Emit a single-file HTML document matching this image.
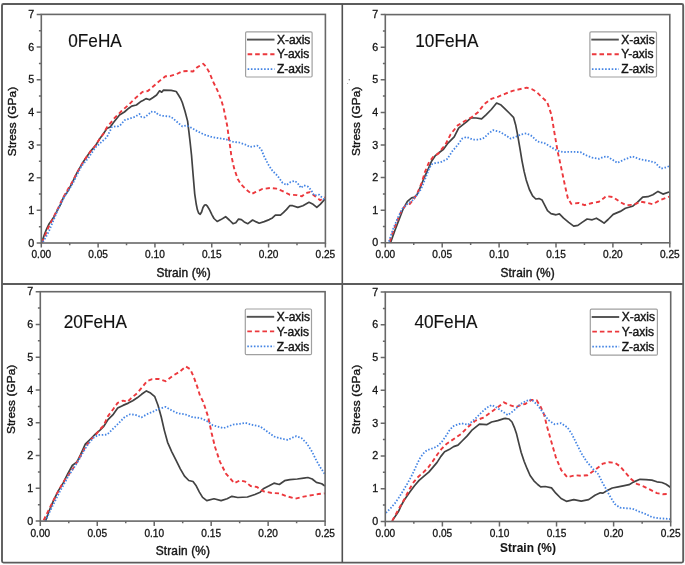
<!DOCTYPE html><html><head><meta charset="utf-8"><style>html,body{margin:0;padding:0;background:#fff;}body{width:685px;height:565px;overflow:hidden;position:relative;}svg{position:absolute;left:0;top:0;filter:blur(0.3px);}text{font-family:"Liberation Sans",sans-serif;fill:#141414;stroke:#141414;stroke-width:0.4px;paint-order:stroke;}.ttl{stroke-width:0.15px;}</style></head><body>
<svg width="685" height="565" viewBox="0 0 685 565">
<g stroke="#5c5c5c" fill="none">
<rect x="2" y="4" width="681.2" height="558.6" rx="1.5" stroke-width="1.9"/>
<line x1="342.3" y1="4" x2="342.3" y2="562.6" stroke-width="1.6" stroke="#505050"/>
<line x1="2" y1="284" x2="683.2" y2="284" stroke-width="1.8" stroke="#5c5c5c"/>
</g>
<polyline points="41.7,242.6 44.6,234.0 46.9,228.3 49.2,223.7 52.1,219.7 54.4,216.2 57.2,210.5 60.7,204.1 63.6,197.2 67.6,191.5 71.7,183.9 76.9,172.9 83.8,160.9 90.7,151.1 95.3,145.9 99.9,138.4 103.4,133.8 106.8,128.6 110.3,126.9 113.3,122.8 119.5,114.9 124.4,112.0 128.8,108.2 131.7,106.1 136.4,105.0 140.4,101.8 143.4,100.3 146.0,98.6 149.6,99.8 153.1,97.5 156.6,95.0 159.6,90.8 161.7,92.2 163.5,90.1 171.2,90.4 176.2,91.5 178.3,94.7 180.4,98.2 182.3,102.5 185.0,111.3 187.6,121.1 188.8,130.8 190.1,142.0 191.5,155.0 193.0,173.5 194.7,193.8 196.2,204.0 197.4,209.8 198.6,213.0 200.2,214.3 201.6,212.0 203.0,207.5 204.6,205.0 206.0,204.8 207.4,206.2 209.6,209.9 212.0,214.8 214.0,218.5 217.2,221.5 220.9,219.6 225.6,216.7 229.3,220.0 233.0,223.7 235.8,222.8 238.6,219.1 241.4,219.6 244.2,221.9 247.9,223.7 252.6,220.0 256.3,221.9 259.2,223.2 264.2,221.6 269.3,219.6 272.4,217.9 275.4,215.1 280.5,215.1 283.6,212.4 286.6,209.4 289.7,205.7 292.7,205.7 297.8,207.4 302.9,205.7 309.0,202.3 313.1,204.3 316.8,207.4 320.2,204.3 324.9,199.2" fill="none" stroke="#424242" stroke-width="1.7" stroke-linejoin="round"/>
<polyline points="41.7,242.6 45.2,235.2 48.0,228.3 51.5,221.4 54.9,214.5 58.4,207.6 61.8,200.1 65.3,193.8 68.7,188.0 72.8,181.1 76.9,172.9 83.8,160.9 90.7,151.1 95.3,145.9 99.9,138.4 103.4,133.8 107.0,127.3 114.2,118.4 121.2,111.3 128.3,105.1 135.4,98.1 142.5,91.9 147.8,91.0 153.1,86.5 160.2,80.4 165.5,76.3 170.5,75.9 176.5,74.2 182.2,71.3 187.9,71.0 192.9,71.5 197.1,67.4 203.3,63.8 205.9,66.5 209.5,72.7 213.0,81.5 217.4,90.4 221.0,99.2 223.6,108.1 225.4,117.0 227.2,125.8 228.9,138.2 230.7,150.6 231.2,154.9 234.0,167.9 237.7,179.1 241.4,184.7 246.0,189.3 251.6,194.0 255.3,192.1 260.0,190.2 262.2,189.0 270.4,188.0 276.5,188.6 282.6,191.1 289.7,194.7 296.8,195.1 301.9,196.2 306.0,193.1 310.0,192.1 315.1,196.2 320.2,200.2 324.9,197.2" fill="none" stroke="#ec383d" stroke-width="1.9" stroke-dasharray="4.2 3.0" stroke-linejoin="round"/>
<polyline points="42.9,242.1 46.3,236.3 49.2,230.6 52.1,223.7 54.9,216.8 57.8,209.9 60.7,204.1 64.7,196.1 69.3,189.2 72.8,183.4 81.5,166.0 88.4,158.0 95.3,147.6 102.2,141.3 106.8,137.3 109.7,131.5 112.0,126.9 115.5,126.3 118.3,126.3 120.6,124.8 124.7,120.1 129.3,118.6 134.9,116.9 139.6,114.0 141.3,116.9 144.5,117.4 148.9,114.0 150.9,111.7 155.9,112.1 158.0,114.6 161.9,115.8 170.8,116.6 176.1,121.1 182.3,126.4 186.7,125.5 192.0,128.1 197.1,131.1 204.2,134.6 211.2,136.8 218.3,138.2 225.4,139.1 232.5,141.7 239.6,142.6 244.9,144.4 250.2,147.0 257.3,145.6 261.2,149.3 264.2,156.5 268.3,164.6 272.4,170.7 277.5,175.8 282.6,182.9 286.6,185.0 290.7,181.9 294.8,180.9 297.8,183.3 300.9,188.0 303.9,185.4 308.0,186.6 311.1,190.0 314.1,195.5 319.2,194.7 323.3,198.8 324.9,199.2" fill="none" stroke="#4585e4" stroke-width="1.8" stroke-dasharray="1.5 1.7" stroke-linejoin="round"/>
<rect x="41.3" y="14.4" width="284.10" height="228.60" fill="none" stroke="#686868" stroke-width="1.6"/>
<path d="M36.70,243.00H41.30M38.90,226.67H41.30M36.70,210.34H41.30M38.90,194.01H41.30M36.70,177.69H41.30M38.90,161.36H41.30M36.70,145.03H41.30M38.90,128.70H41.30M36.70,112.37H41.30M38.90,96.04H41.30M36.70,79.71H41.30M38.90,63.39H41.30M36.70,47.06H41.30M38.90,30.73H41.30M36.70,14.40H41.30M41.30,243.00V247.60M69.71,243.00V245.20M98.12,243.00V247.60M126.53,243.00V245.20M154.94,243.00V247.60M183.35,243.00V245.20M211.76,243.00V247.60M240.17,243.00V245.20M268.58,243.00V247.60M296.99,243.00V245.20M325.40,243.00V247.60" stroke="#686868" stroke-width="1.5" fill="none"/>
<text x="34.10" y="246.50" font-size="10.7" style="stroke-width:0.3px" text-anchor="end">0</text>
<text x="34.10" y="213.84" font-size="10.7" style="stroke-width:0.3px" text-anchor="end">1</text>
<text x="34.10" y="181.19" font-size="10.7" style="stroke-width:0.3px" text-anchor="end">2</text>
<text x="34.10" y="148.53" font-size="10.7" style="stroke-width:0.3px" text-anchor="end">3</text>
<text x="34.10" y="115.87" font-size="10.7" style="stroke-width:0.3px" text-anchor="end">4</text>
<text x="34.10" y="83.21" font-size="10.7" style="stroke-width:0.3px" text-anchor="end">5</text>
<text x="34.10" y="50.56" font-size="10.7" style="stroke-width:0.3px" text-anchor="end">6</text>
<text x="34.10" y="17.90" font-size="10.7" style="stroke-width:0.3px" text-anchor="end">7</text>
<text x="41.30" y="257.90" font-size="10.1" style="stroke-width:0.3px" text-anchor="middle">0.00</text>
<text x="98.12" y="257.90" font-size="10.1" style="stroke-width:0.3px" text-anchor="middle">0.05</text>
<text x="154.94" y="257.90" font-size="10.1" style="stroke-width:0.3px" text-anchor="middle">0.10</text>
<text x="211.76" y="257.90" font-size="10.1" style="stroke-width:0.3px" text-anchor="middle">0.15</text>
<text x="268.58" y="257.90" font-size="10.1" style="stroke-width:0.3px" text-anchor="middle">0.20</text>
<text x="325.40" y="257.90" font-size="10.1" style="stroke-width:0.3px" text-anchor="middle">0.25</text>
<text transform="translate(16.10,121.50) rotate(-90)" font-size="11.8" letter-spacing="0.1" text-anchor="middle">Stress (GPa)</text>
<text x="183.60" y="276.90" font-size="11.9" letter-spacing="0.15" text-anchor="middle">Strain (%)</text>
<text transform="translate(68.30,46.90) scale(0.935,1)" font-size="18.4" class="ttl" style="fill:#111;stroke:#111">0FeHA</text>
<rect x="245.60" y="31.80" width="66.50" height="45.20" rx="1.2" fill="#fff" stroke="#a0a0a0" stroke-width="1.2"/>
<line x1="247.00" y1="39.60" x2="274.50" y2="39.60" stroke="#505050" stroke-width="1.9"/>
<line x1="247.60" y1="54.20" x2="274.50" y2="54.20" stroke="#ec383d" stroke-width="1.9" stroke-dasharray="4.6 2.95"/>
<line x1="247.60" y1="69.20" x2="274.50" y2="69.20" stroke="#4585e4" stroke-width="1.8" stroke-dasharray="1.6 1.7"/>
<text x="277.00" y="43.70" font-size="12">X-axis</text>
<text x="277.00" y="58.30" font-size="12">Y-axis</text>
<text x="277.00" y="73.30" font-size="12">Z-axis</text>
<polyline points="390.6,242.4 394.8,230.7 399.0,219.7 403.2,208.8 407.4,201.3 411.6,197.9 414.9,197.1 417.5,193.7 420.8,186.1 424.2,177.7 428.4,168.5 431.7,160.9 435.1,155.9 439.3,152.5 443.5,149.3 448.0,143.1 454.2,136.9 458.6,128.1 463.0,124.6 466.5,121.9 471.0,117.8 476.3,118.0 481.6,118.9 486.0,114.8 491.3,109.5 496.6,103.0 501.1,105.1 505.0,108.8 509.2,113.0 513.5,117.3 515.6,124.7 517.7,135.3 519.9,148.1 522.0,160.8 524.1,171.4 526.2,179.9 529.4,189.5 532.6,195.8 535.8,199.0 539.0,198.6 542.1,200.1 544.3,204.3 547.5,210.7 551.0,213.6 556.1,214.8 559.4,213.9 563.6,218.2 568.7,222.4 573.7,226.1 577.9,225.4 582.1,222.4 587.1,219.0 592.2,219.8 596.4,218.2 600.6,220.7 604.1,223.1 608.1,219.5 613.2,214.4 620.3,211.4 625.4,208.3 632.5,206.3 637.6,202.2 642.7,197.1 647.8,196.7 652.9,194.7 658.0,191.4 663.0,194.1 669.1,192.0" fill="none" stroke="#424242" stroke-width="1.7" stroke-linejoin="round"/>
<polyline points="389.7,241.6 393.1,231.5 397.3,220.6 401.5,210.5 405.7,205.5 409.9,203.8 414.1,198.7 417.5,192.9 421.7,182.8 425.0,171.8 429.2,161.8 433.4,156.7 438.5,153.4 440.0,151.1 445.3,144.9 450.6,134.3 457.7,125.4 464.8,121.0 471.9,117.1 478.0,112.2 484.2,104.2 491.3,98.9 498.4,96.6 505.5,93.6 512.6,90.9 519.6,89.2 526.7,87.7 532.0,89.2 536.5,91.8 540.0,95.4 547.1,101.9 551.5,115.0 554.4,132.6 557.7,151.8 560.3,163.5 562.8,175.3 565.3,187.1 567.8,198.0 571.2,203.9 578.7,203.0 584.6,205.2 592.2,203.0 598.9,201.8 604.0,198.0 606.1,196.1 613.2,197.1 620.3,202.2 626.4,205.2 633.6,204.8 640.7,201.6 646.8,202.8 652.9,204.2 660.0,200.2 669.1,196.7" fill="none" stroke="#ec383d" stroke-width="1.9" stroke-dasharray="4.2 3.0" stroke-linejoin="round"/>
<polyline points="388.9,241.6 393.1,229.0 398.1,217.2 402.3,208.8 406.5,204.6 412.4,200.4 416.6,195.4 420.8,189.5 425.0,179.4 429.2,168.5 431.7,164.3 436.8,162.6 440.0,162.6 447.1,159.1 452.4,151.1 457.7,144.9 462.1,138.7 466.5,136.9 472.7,139.6 478.9,139.6 484.2,137.8 488.7,133.4 493.1,130.2 500.2,132.0 505.5,135.2 510.8,138.7 516.1,136.6 521.4,134.3 526.7,133.4 532.0,136.1 537.3,141.4 545.1,143.4 551.8,147.6 557.7,150.9 563.6,152.1 572.0,151.8 580.4,152.1 585.5,155.1 592.2,157.6 598.9,158.8 604.0,156.8 607.1,156.4 612.2,159.5 617.3,162.9 624.4,159.5 632.5,156.4 640.7,159.5 648.8,160.9 654.9,162.5 661.0,168.6 665.1,167.6 669.1,166.2" fill="none" stroke="#4585e4" stroke-width="1.8" stroke-dasharray="1.5 1.7" stroke-linejoin="round"/>
<rect x="385.3" y="14.6" width="284.50" height="228.20" fill="none" stroke="#686868" stroke-width="1.6"/>
<path d="M380.70,242.80H385.30M382.90,226.50H385.30M380.70,210.20H385.30M382.90,193.90H385.30M380.70,177.60H385.30M382.90,161.30H385.30M380.70,145.00H385.30M382.90,128.70H385.30M380.70,112.40H385.30M382.90,96.10H385.30M380.70,79.80H385.30M382.90,63.50H385.30M380.70,47.20H385.30M382.90,30.90H385.30M380.70,14.60H385.30M385.30,242.80V247.40M413.75,242.80V245.00M442.20,242.80V247.40M470.65,242.80V245.00M499.10,242.80V247.40M527.55,242.80V245.00M556.00,242.80V247.40M584.45,242.80V245.00M612.90,242.80V247.40M641.35,242.80V245.00M669.80,242.80V247.40" stroke="#686868" stroke-width="1.5" fill="none"/>
<text x="378.10" y="246.30" font-size="10.7" style="stroke-width:0.3px" text-anchor="end">0</text>
<text x="378.10" y="213.70" font-size="10.7" style="stroke-width:0.3px" text-anchor="end">1</text>
<text x="378.10" y="181.10" font-size="10.7" style="stroke-width:0.3px" text-anchor="end">2</text>
<text x="378.10" y="148.50" font-size="10.7" style="stroke-width:0.3px" text-anchor="end">3</text>
<text x="378.10" y="115.90" font-size="10.7" style="stroke-width:0.3px" text-anchor="end">4</text>
<text x="378.10" y="83.30" font-size="10.7" style="stroke-width:0.3px" text-anchor="end">5</text>
<text x="378.10" y="50.70" font-size="10.7" style="stroke-width:0.3px" text-anchor="end">6</text>
<text x="378.10" y="18.10" font-size="10.7" style="stroke-width:0.3px" text-anchor="end">7</text>
<text x="385.30" y="257.70" font-size="10.1" style="stroke-width:0.3px" text-anchor="middle">0.00</text>
<text x="442.20" y="257.70" font-size="10.1" style="stroke-width:0.3px" text-anchor="middle">0.05</text>
<text x="499.10" y="257.70" font-size="10.1" style="stroke-width:0.3px" text-anchor="middle">0.10</text>
<text x="556.00" y="257.70" font-size="10.1" style="stroke-width:0.3px" text-anchor="middle">0.15</text>
<text x="612.90" y="257.70" font-size="10.1" style="stroke-width:0.3px" text-anchor="middle">0.20</text>
<text x="669.80" y="257.70" font-size="10.1" style="stroke-width:0.3px" text-anchor="middle">0.25</text>
<text transform="translate(360.30,121.30) rotate(-90)" font-size="11.8" letter-spacing="0.1" text-anchor="middle">Stress (GPa)</text>
<text x="527.70" y="276.90" font-size="11.9" letter-spacing="0.15" text-anchor="middle">Strain (%)</text>
<text transform="translate(415.30,46.90) scale(0.935,1)" font-size="18.4" class="ttl" style="fill:#111;stroke:#111">10FeHA</text>
<rect x="589.90" y="31.80" width="66.60" height="45.20" rx="1.2" fill="#fff" stroke="#a0a0a0" stroke-width="1.2"/>
<line x1="591.30" y1="39.60" x2="618.80" y2="39.60" stroke="#505050" stroke-width="1.9"/>
<line x1="591.90" y1="54.20" x2="618.80" y2="54.20" stroke="#ec383d" stroke-width="1.9" stroke-dasharray="4.6 2.95"/>
<line x1="591.90" y1="69.20" x2="618.80" y2="69.20" stroke="#4585e4" stroke-width="1.8" stroke-dasharray="1.6 1.7"/>
<text x="621.30" y="43.70" font-size="12">X-axis</text>
<text x="621.30" y="58.30" font-size="12">Y-axis</text>
<text x="621.30" y="73.30" font-size="12">Z-axis</text>
<polyline points="45.4,521.2 49.1,511.0 53.8,499.8 58.4,490.6 63.1,483.1 67.7,473.8 72.3,465.5 77.0,461.8 80.7,454.3 85.3,444.1 90.0,439.5 95.6,433.9 100.0,430.2 103.5,426.7 108.0,419.6 113.3,414.3 117.7,408.1 123.0,405.4 128.3,403.1 132.7,400.7 137.2,397.8 141.6,394.3 146.4,390.9 150.6,393.1 154.8,396.7 158.0,405.2 161.2,416.8 164.4,430.6 167.6,442.3 171.8,451.8 176.1,460.3 180.3,468.8 184.5,476.2 188.8,480.5 193.0,481.5 196.2,485.8 199.4,492.1 202.6,497.4 206.8,500.6 214.0,498.7 221.1,500.6 227.1,498.7 231.9,496.3 237.8,497.5 247.4,497.0 254.9,494.5 260.2,492.3 263.3,488.7 268.7,486.0 274.0,483.2 279.3,484.5 284.6,480.7 289.9,479.6 297.3,479.0 303.7,478.1 307.9,477.5 312.2,479.0 316.4,482.4 321.7,483.8 324.9,486.0" fill="none" stroke="#424242" stroke-width="1.7" stroke-linejoin="round"/>
<polyline points="43.6,520.3 47.3,512.8 51.9,503.5 56.6,494.3 61.2,485.9 65.8,478.5 70.5,472.0 75.1,465.5 79.8,457.1 84.4,448.8 90.0,440.4 95.6,434.9 100.0,429.3 103.5,425.8 108.0,416.1 113.3,409.0 117.7,402.8 123.0,400.7 127.4,401.9 131.0,398.4 137.2,393.1 142.5,386.9 146.9,381.2 152.2,379.2 158.4,378.9 165.5,381.2 172.6,375.9 179.6,371.8 185.8,366.5 190.3,369.2 193.8,377.1 197.3,386.9 200.0,395.7 203.2,401.9 208.0,416.3 211.6,433.0 215.1,447.3 219.9,461.6 225.9,473.6 234.3,483.1 240.2,480.3 245.3,481.7 250.6,486.0 257.0,487.0 263.3,491.3 271.8,493.0 279.3,493.4 285.6,495.9 295.2,498.7 303.7,496.6 312.2,495.1 318.5,494.0 324.9,493.4" fill="none" stroke="#ec383d" stroke-width="1.9" stroke-dasharray="4.2 3.0" stroke-linejoin="round"/>
<polyline points="45.4,521.2 50.1,511.0 54.7,501.7 59.4,492.4 64.0,484.1 68.6,475.7 74.2,467.3 78.8,459.9 83.5,451.6 88.1,444.1 93.7,437.6 98.3,434.9 103.0,434.9 107.1,434.6 113.3,428.5 119.5,422.3 124.8,416.9 130.1,414.3 135.4,414.8 141.6,417.3 146.9,414.3 153.1,411.6 158.4,409.0 165.5,406.9 170.8,409.9 177.9,413.4 185.0,414.3 192.0,417.0 200.8,418.2 206.8,421.0 212.8,425.3 223.5,428.2 233.1,424.6 240.0,423.8 245.3,422.9 252.7,425.0 260.2,426.5 267.6,431.8 274.0,436.5 281.4,438.6 287.8,439.9 292.0,437.8 296.3,436.1 301.6,438.2 306.9,443.5 312.2,452.0 316.4,460.5 320.7,467.9 324.9,474.3" fill="none" stroke="#4585e4" stroke-width="1.8" stroke-dasharray="1.5 1.7" stroke-linejoin="round"/>
<rect x="40.3" y="291.7" width="284.80" height="229.40" fill="none" stroke="#686868" stroke-width="1.6"/>
<path d="M35.70,521.10H40.30M37.90,504.71H40.30M35.70,488.33H40.30M37.90,471.94H40.30M35.70,455.56H40.30M37.90,439.17H40.30M35.70,422.79H40.30M37.90,406.40H40.30M35.70,390.01H40.30M37.90,373.63H40.30M35.70,357.24H40.30M37.90,340.86H40.30M35.70,324.47H40.30M37.90,308.09H40.30M35.70,291.70H40.30M40.30,521.10V526.10M68.78,521.10V523.30M97.26,521.10V526.10M125.74,521.10V523.30M154.22,521.10V526.10M182.70,521.10V523.30M211.18,521.10V526.10M239.66,521.10V523.30M268.14,521.10V526.10M296.62,521.10V523.30M325.10,521.10V526.10" stroke="#686868" stroke-width="1.5" fill="none"/>
<text x="33.10" y="524.60" font-size="10.7" style="stroke-width:0.3px" text-anchor="end">0</text>
<text x="33.10" y="491.83" font-size="10.7" style="stroke-width:0.3px" text-anchor="end">1</text>
<text x="33.10" y="459.06" font-size="10.7" style="stroke-width:0.3px" text-anchor="end">2</text>
<text x="33.10" y="426.29" font-size="10.7" style="stroke-width:0.3px" text-anchor="end">3</text>
<text x="33.10" y="393.51" font-size="10.7" style="stroke-width:0.3px" text-anchor="end">4</text>
<text x="33.10" y="360.74" font-size="10.7" style="stroke-width:0.3px" text-anchor="end">5</text>
<text x="33.10" y="327.97" font-size="10.7" style="stroke-width:0.3px" text-anchor="end">6</text>
<text x="33.10" y="295.20" font-size="10.7" style="stroke-width:0.3px" text-anchor="end">7</text>
<text x="40.30" y="536.90" font-size="10.1" style="stroke-width:0.3px" text-anchor="middle">0.00</text>
<text x="97.26" y="536.90" font-size="10.1" style="stroke-width:0.3px" text-anchor="middle">0.05</text>
<text x="154.22" y="536.90" font-size="10.1" style="stroke-width:0.3px" text-anchor="middle">0.10</text>
<text x="211.18" y="536.90" font-size="10.1" style="stroke-width:0.3px" text-anchor="middle">0.15</text>
<text x="268.14" y="536.90" font-size="10.1" style="stroke-width:0.3px" text-anchor="middle">0.20</text>
<text x="325.10" y="536.90" font-size="10.1" style="stroke-width:0.3px" text-anchor="middle">0.25</text>
<text transform="translate(14.90,399.30) rotate(-90)" font-size="11.8" letter-spacing="0.1" text-anchor="middle">Stress (GPa)</text>
<text x="182.90" y="554.70" font-size="11.9" letter-spacing="0.15" text-anchor="middle">Strain (%)</text>
<text transform="translate(63.80,327.80) scale(0.935,1)" font-size="18.4" class="ttl" style="fill:#111;stroke:#111">20FeHA</text>
<rect x="245.30" y="309.00" width="66.20" height="45.60" rx="1.2" fill="#fff" stroke="#a0a0a0" stroke-width="1.2"/>
<line x1="246.70" y1="316.80" x2="274.20" y2="316.80" stroke="#505050" stroke-width="1.9"/>
<line x1="247.30" y1="331.40" x2="274.20" y2="331.40" stroke="#ec383d" stroke-width="1.9" stroke-dasharray="4.6 2.95"/>
<line x1="247.30" y1="346.40" x2="274.20" y2="346.40" stroke="#4585e4" stroke-width="1.8" stroke-dasharray="1.6 1.7"/>
<text x="276.70" y="320.90" font-size="12">X-axis</text>
<text x="276.70" y="335.50" font-size="12">Y-axis</text>
<text x="276.70" y="350.50" font-size="12">Z-axis</text>
<polyline points="392.2,520.9 398.3,511.8 401.5,505.0 404.8,499.2 410.0,491.7 414.5,485.7 419.1,480.4 424.3,475.9 428.8,472.1 433.3,466.9 437.1,462.4 440.9,456.4 444.6,451.8 449.1,449.6 453.6,446.6 458.0,445.1 462.1,441.0 467.2,435.9 472.3,429.8 479.4,424.1 486.6,424.7 491.6,422.0 497.7,420.6 503.9,418.6 505.3,418.3 509.0,419.0 512.0,422.0 514.3,427.3 516.6,434.1 518.8,443.1 521.1,452.2 524.1,461.2 527.1,468.7 530.1,475.5 533.9,480.8 537.7,484.5 540.7,486.8 545.2,486.5 551.5,487.9 555.8,493.2 561.1,498.5 566.4,501.3 573.8,499.6 581.2,501.1 588.7,499.6 595.0,495.3 600.3,492.8 603.0,493.1 607.2,490.5 612.3,488.0 618.2,486.8 623.2,485.8 629.1,484.7 633.3,482.1 640.0,479.3 645.9,479.6 651.8,480.1 656.9,481.8 661.9,482.5 666.1,484.2 670.3,487.2" fill="none" stroke="#424242" stroke-width="1.7" stroke-linejoin="round"/>
<polyline points="392.2,520.9 397.2,511.8 401.0,505.0 404.8,498.5 409.3,489.4 413.8,481.9 418.3,476.7 423.6,472.1 428.1,467.6 432.6,461.6 437.1,454.8 441.6,448.8 446.1,444.3 451.4,440.6 455.9,437.6 461.1,433.9 467.2,427.7 475.4,420.6 483.5,417.6 490.6,412.5 497.7,407.4 503.9,402.3 508.9,404.9 516.1,407.0 522.2,404.3 525.0,404.1 531.4,399.9 536.7,400.3 540.9,407.3 544.1,414.7 547.3,427.4 551.5,442.3 555.8,457.1 561.1,469.9 567.4,477.3 574.9,475.2 581.2,475.8 587.6,475.2 595.0,469.9 603.0,463.6 608.9,462.3 614.8,462.8 619.9,466.2 624.9,472.0 630.8,478.8 636.7,483.8 643.4,486.3 650.1,489.7 656.9,493.1 662.7,494.2 669.5,493.9" fill="none" stroke="#ec383d" stroke-width="1.9" stroke-dasharray="4.2 3.0" stroke-linejoin="round"/>
<polyline points="385.9,512.9 390.5,508.3 394.9,503.3 398.8,497.7 402.5,491.7 407.0,484.2 410.8,477.4 413.8,471.4 416.8,464.6 419.8,458.6 422.8,454.1 425.8,451.1 429.6,449.3 434.1,447.8 437.8,445.8 441.6,442.1 445.4,436.8 449.1,430.8 452.9,426.3 456.6,424.8 461.1,423.3 468.2,424.7 475.4,418.6 481.5,412.5 486.6,407.8 491.6,405.0 495.7,407.0 500.8,410.4 507.9,415.1 514.0,410.4 520.1,404.3 526.2,400.9 531.4,399.4 537.7,405.2 543.0,412.6 548.3,420.0 554.7,424.3 561.1,423.2 567.4,427.4 571.7,433.8 575.9,442.3 581.2,452.9 586.5,461.4 592.9,468.8 598.2,474.1 602.2,482.1 606.4,489.7 610.6,497.3 614.8,504.0 619.9,507.7 625.7,508.2 632.5,508.7 639.2,511.6 645.9,514.1 651.8,517.1 658.5,518.3 665.3,518.6 670.3,519.1" fill="none" stroke="#4585e4" stroke-width="1.8" stroke-dasharray="1.5 1.7" stroke-linejoin="round"/>
<rect x="385.3" y="292.0" width="285.40" height="229.50" fill="none" stroke="#686868" stroke-width="1.6"/>
<path d="M380.70,521.50H385.30M382.90,505.11H385.30M380.70,488.71H385.30M382.90,472.32H385.30M380.70,455.93H385.30M382.90,439.54H385.30M380.70,423.14H385.30M382.90,406.75H385.30M380.70,390.36H385.30M382.90,373.96H385.30M380.70,357.57H385.30M382.90,341.18H385.30M380.70,324.79H385.30M382.90,308.39H385.30M380.70,292.00H385.30M385.30,521.50V526.50M413.84,521.50V523.70M442.38,521.50V526.50M470.92,521.50V523.70M499.46,521.50V526.50M528.00,521.50V523.70M556.54,521.50V526.50M585.08,521.50V523.70M613.62,521.50V526.50M642.16,521.50V523.70M670.70,521.50V526.50" stroke="#686868" stroke-width="1.5" fill="none"/>
<text x="378.10" y="525.00" font-size="10.7" style="stroke-width:0.3px" text-anchor="end">0</text>
<text x="378.10" y="492.21" font-size="10.7" style="stroke-width:0.3px" text-anchor="end">1</text>
<text x="378.10" y="459.43" font-size="10.7" style="stroke-width:0.3px" text-anchor="end">2</text>
<text x="378.10" y="426.64" font-size="10.7" style="stroke-width:0.3px" text-anchor="end">3</text>
<text x="378.10" y="393.86" font-size="10.7" style="stroke-width:0.3px" text-anchor="end">4</text>
<text x="378.10" y="361.07" font-size="10.7" style="stroke-width:0.3px" text-anchor="end">5</text>
<text x="378.10" y="328.29" font-size="10.7" style="stroke-width:0.3px" text-anchor="end">6</text>
<text x="378.10" y="295.50" font-size="10.7" style="stroke-width:0.3px" text-anchor="end">7</text>
<text x="385.30" y="537.30" font-size="10.1" style="stroke-width:0.3px" text-anchor="middle">0.00</text>
<text x="442.38" y="537.30" font-size="10.1" style="stroke-width:0.3px" text-anchor="middle">0.05</text>
<text x="499.46" y="537.30" font-size="10.1" style="stroke-width:0.3px" text-anchor="middle">0.10</text>
<text x="556.54" y="537.30" font-size="10.1" style="stroke-width:0.3px" text-anchor="middle">0.15</text>
<text x="613.62" y="537.30" font-size="10.1" style="stroke-width:0.3px" text-anchor="middle">0.20</text>
<text x="670.70" y="537.30" font-size="10.1" style="stroke-width:0.3px" text-anchor="middle">0.25</text>
<text transform="translate(359.90,399.50) rotate(-90)" font-size="11.8" letter-spacing="0.1" text-anchor="middle">Stress (GPa)</text>
<text x="528.00" y="551.50" font-size="11.9" font-weight="bold" style="stroke-width:0.1px" letter-spacing="0.05" text-anchor="middle">Strain (%)</text>
<text transform="translate(414.50,327.80) scale(0.935,1)" font-size="18.4" class="ttl" style="fill:#111;stroke:#111">40FeHA</text>
<rect x="590.30" y="309.20" width="67.10" height="45.90" rx="1.2" fill="#fff" stroke="#a0a0a0" stroke-width="1.2"/>
<line x1="591.70" y1="317.00" x2="619.20" y2="317.00" stroke="#505050" stroke-width="1.9"/>
<line x1="592.30" y1="331.60" x2="619.20" y2="331.60" stroke="#ec383d" stroke-width="1.9" stroke-dasharray="4.6 2.95"/>
<line x1="592.30" y1="346.60" x2="619.20" y2="346.60" stroke="#4585e4" stroke-width="1.8" stroke-dasharray="1.6 1.7"/>
<text x="621.70" y="321.10" font-size="12">X-axis</text>
<text x="621.70" y="335.70" font-size="12">Y-axis</text>
<text x="621.70" y="350.70" font-size="12">Z-axis</text>
<circle cx="349.3" cy="79.7" r="0.7" fill="#777"/><circle cx="347.6" cy="83.6" r="0.5" fill="#999"/>
</svg></body></html>
